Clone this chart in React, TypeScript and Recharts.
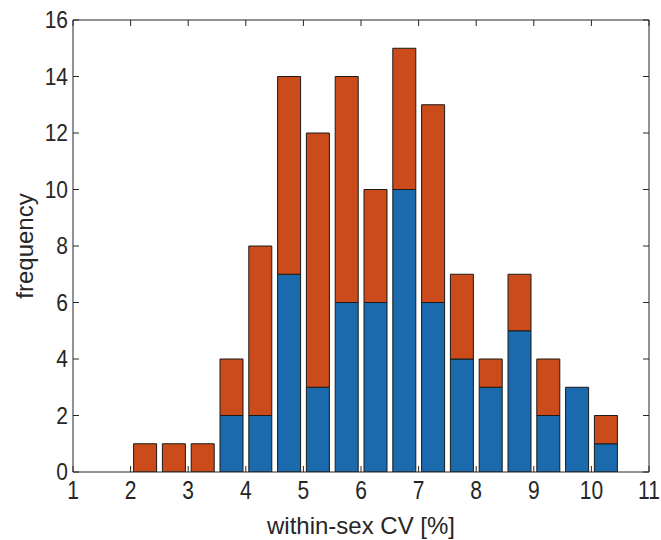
import { ComposedChart, Bar, Line, XAxis, YAxis } from 'recharts';

// histogram bins (width 0.5), centres on the x axis
const binCenters = [2.25, 2.75, 3.25, 3.75, 4.25, 4.75, 5.25, 5.75, 6.25, 6.75, 7.25, 7.75, 8.25, 8.75, 9.25, 9.75, 10.25];
const blueCounts = [0, 0, 0, 2, 2, 7, 3, 6, 6, 10, 6, 4, 3, 5, 2, 3, 1];
const orangeCounts = [1, 1, 1, 2, 6, 7, 9, 8, 4, 5, 7, 3, 1, 2, 2, 0, 1];

const xTicks = [1, 2, 3, 4, 5, 6, 7, 8, 9, 10, 11];
const yTicks = [0, 2, 4, 6, 8, 10, 12, 14, 16];

const data = binCenters.map((x, i) => ({ x, blue: blueCounts[i], orange: orangeCounts[i] }));

const AXIS = '#262626';
const FONT = '"Liberation Sans", Arial, Helvetica, sans-serif';
const TICK_LEN = 6;
const TICK_FONT = 21;

function BottomTick({ x, y, payload }: any) {
    const y0 = y - 9;
    return (
        <g>
            <line x1={x} x2={x} y1={y0} y2={y0 - TICK_LEN} stroke={AXIS} />
            <text
                transform={`translate(${x},${y}) scale(1,1.2)`}
                dy="0.72em"
                textAnchor="middle"
                fill={AXIS}
                fontSize={TICK_FONT}
                fontFamily={FONT}
            >
                {payload.value}
            </text>
        </g>
    );
}

function LeftTick({ x, y, payload }: any) {
    const x0 = x + 5;
    return (
        <g>
            <line x1={x0} x2={x0 + TICK_LEN} y1={y} y2={y} stroke={AXIS} />
            <text
                transform={`translate(${x},${y}) scale(1,1.1)`}
                dy="0.36em"
                textAnchor="end"
                fill={AXIS}
                fontSize={TICK_FONT}
                fontFamily={FONT}
            >
                {payload.value}
            </text>
        </g>
    );
}

function TopTick({ x, y }: any) {
    return <line x1={x} x2={x} y1={y} y2={y + TICK_LEN} stroke={AXIS} />;
}

function RightTick({ x, y }: any) {
    return <line x1={x} x2={x - TICK_LEN} y1={y} y2={y} stroke={AXIS} />;
}

export default function App() {
    return (
        <div style={{ position: 'absolute', left: 0, top: 0, background: '#fff' }}>
            <ComposedChart width={661} height={540} data={data} margin={{ top: 19, right: 11, bottom: 0, left: 0 }}>
                <XAxis
                    dataKey="x"
                    type="number"
                    domain={[1, 11]}
                    ticks={xTicks}
                    allowDataOverflow
                    height={68}
                    tickSize={0}
                    tickMargin={9}
                    tickLine={false}
                    tick={<BottomTick />}
                    stroke={AXIS}
                    label={{ value: 'within-sex CV [%]', position: 'insideBottom', offset: 6, fill: AXIS, fontSize: 24, fontFamily: FONT }}
                />
                <XAxis
                    xAxisId="top"
                    orientation="top"
                    dataKey="x"
                    type="number"
                    domain={[1, 11]}
                    ticks={xTicks}
                    allowDataOverflow
                    height={1}
                    tickSize={0}
                    tickMargin={0}
                    tickLine={false}
                    tick={<TopTick />}
                    stroke={AXIS}
                />
                <YAxis
                    type="number"
                    domain={[0, 16]}
                    ticks={yTicks}
                    allowDataOverflow
                    width={73}
                    tickSize={0}
                    tickMargin={5}
                    tickLine={false}
                    tick={<LeftTick />}
                    stroke={AXIS}
                    label={{ value: 'frequency', angle: -90, position: 'insideLeft', offset: 24, fill: AXIS, fontSize: 24, fontFamily: FONT, style: { textAnchor: 'middle' } }}
                />
                <YAxis
                    yAxisId="right"
                    orientation="right"
                    type="number"
                    domain={[0, 16]}
                    ticks={yTicks}
                    allowDataOverflow
                    width={1}
                    tickSize={0}
                    tickMargin={0}
                    tickLine={false}
                    tick={<RightTick />}
                    stroke={AXIS}
                />
                <Bar dataKey="blue" stackId="a" fill="#1b6aae" stroke="#1a1a1a" strokeWidth={1} barSize={23} isAnimationActive={false} />
                <Bar dataKey="orange" stackId="a" fill="#cb4c1a" stroke="#1a1a1a" strokeWidth={1} barSize={23} isAnimationActive={false} />
                {/* invisible series so the mirrored top/right axes get drawn */}
                <Line
                    xAxisId="top"
                    yAxisId="right"
                    dataKey="blue"
                    stroke="none"
                    dot={false}
                    activeDot={false}
                    legendType="none"
                    isAnimationActive={false}
                />
            </ComposedChart>
        </div>
    );
}
